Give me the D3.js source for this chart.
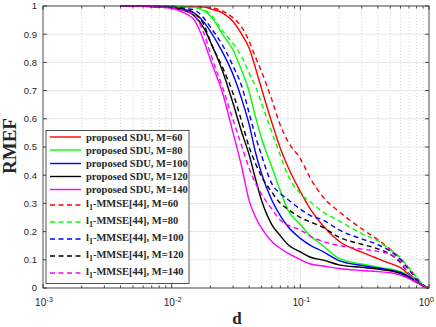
<!DOCTYPE html>
<html>
<head>
<meta charset="utf-8">
<script src="https://cdn.jsdelivr.net/npm/d3@7"></script>
<style>
  body { margin: 0; background: #fff; }
</style>
</head>
<body>
<svg id="chart" width="436" height="327"></svg>
<script>
// sample points on d (log axis)
var dVals = [0.004, 0.006, 0.008, 0.01, 0.012, 0.015, 0.018, 0.02, 0.025, 0.03, 0.035, 0.04, 0.045, 0.05,
             0.06, 0.07, 0.08, 0.1, 0.12, 0.15, 0.2, 0.3, 0.4, 0.5, 0.6, 0.7, 0.8, 0.9, 1];

// proposed SDU (solid)
var sdu60  = [1.0, 1.0, 0.999, 0.998, 0.997, 0.996, 0.996, 0.990, 0.975, 0.945, 0.900, 0.851, 0.777, 0.706,
              0.587, 0.495, 0.430, 0.342, 0.279, 0.221, 0.166, 0.127, 0.104, 0.087, 0.072, 0.048, 0.028, 0.009, 0];
var sdu80  = [1.0, 1.0, 0.999, 0.998, 0.997, 0.995, 0.982, 0.965, 0.898, 0.844, 0.771, 0.696, 0.604, 0.530,
              0.430, 0.343, 0.277, 0.225, 0.184, 0.150, 0.105, 0.085, 0.074, 0.067, 0.058, 0.045, 0.029, 0.010, 0];
var sdu100 = [1.0, 0.999, 0.998, 0.996, 0.990, 0.975, 0.940, 0.910, 0.834, 0.757, 0.670, 0.580, 0.478, 0.405,
              0.312, 0.256, 0.218, 0.176, 0.151, 0.129, 0.097, 0.080, 0.071, 0.064, 0.055, 0.040, 0.023, 0.008, 0];
var sdu120 = [1.0, 0.999, 0.997, 0.994, 0.986, 0.965, 0.918, 0.873, 0.766, 0.655, 0.553, 0.473, 0.384, 0.310,
              0.225, 0.185, 0.154, 0.128, 0.109, 0.099, 0.082, 0.073, 0.067, 0.061, 0.051, 0.037, 0.021, 0.008, 0];
var sdu140 = [1.0, 0.999, 0.996, 0.992, 0.979, 0.950, 0.870, 0.810, 0.688, 0.550, 0.430, 0.310, 0.250, 0.212,
              0.165, 0.140, 0.124, 0.101, 0.085, 0.078, 0.069, 0.062, 0.058, 0.054, 0.046, 0.033, 0.019, 0.008, 0];

// l1-MMSE[44] (dashed)
var mmse60  = [1.0, 1.0, 0.999, 0.999, 0.998, 0.997, 0.996, 0.994, 0.982, 0.958, 0.925, 0.875, 0.817, 0.767,
               0.668, 0.576, 0.520, 0.459, 0.388, 0.323, 0.271, 0.210, 0.171, 0.137, 0.104, 0.070, 0.037, 0.011, 0];
var mmse80  = [1.0, 1.0, 0.999, 0.998, 0.997, 0.994, 0.985, 0.970, 0.910, 0.867, 0.820, 0.762, 0.713, 0.655,
               0.553, 0.470, 0.400, 0.335, 0.305, 0.270, 0.238, 0.193, 0.167, 0.135, 0.108, 0.071, 0.039, 0.011, 0];
var mmse100 = [1.0, 0.999, 0.998, 0.997, 0.993, 0.986, 0.954, 0.925, 0.859, 0.787, 0.716, 0.620, 0.535, 0.470,
               0.370, 0.335, 0.314, 0.280, 0.257, 0.241, 0.206, 0.174, 0.154, 0.131, 0.101, 0.064, 0.030, 0.009, 0];
var mmse120 = [1.0, 0.999, 0.998, 0.995, 0.990, 0.975, 0.929, 0.874, 0.780, 0.690, 0.591, 0.500, 0.440, 0.395,
               0.340, 0.300, 0.280, 0.250, 0.234, 0.215, 0.180, 0.155, 0.139, 0.120, 0.090, 0.050, 0.023, 0.009, 0];
var mmse140 = [1.0, 0.999, 0.997, 0.994, 0.986, 0.968, 0.897, 0.832, 0.708, 0.596, 0.504, 0.425, 0.370, 0.332,
               0.280, 0.240, 0.223, 0.206, 0.183, 0.165, 0.151, 0.138, 0.130, 0.119, 0.094, 0.050, 0.023, 0.009, 0];

var mLabels = ["60", "80", "100", "120", "140"];
var colors = ["#ff0000", "#00ff00", "#0000ff", "#000000", "#ff00ff"];
var xTickVals = [0.001, 0.01, 0.1, 1];
var xTickExps = ["-3", "-2", "-1", "0"];

var series = [];
[sdu60, sdu80, sdu100, sdu120, sdu140].forEach(function(v, i) {
  series.push({ values: v, color: colors[i], dashed: false, m: mLabels[i] });
});
[mmse60, mmse80, mmse100, mmse120, mmse140].forEach(function(v, i) {
  series.push({ values: v, color: colors[i], dashed: true, m: mLabels[i] });
});

var svg = d3.select("#chart");
var axisColor = "#262626";
var sans = "'Liberation Sans', Arial, sans-serif";
var serif = "'Liberation Serif', 'Times New Roman', serif";

var x = d3.scaleLog().domain([1e-3, 1]).range([43, 429]);
var y = d3.scaleLinear().domain([0, 1]).range([288, 6]);

// grid
var grid = svg.append("g");
var minor = x.ticks().filter(function(d) {
  var l = Math.log10(d); return Math.abs(l - Math.round(l)) > 1e-6;
});
grid.selectAll(".minor").data(minor).enter().append("line")
    .attr("x1", function(d) { return x(d); }).attr("x2", function(d) { return x(d); })
    .attr("y1", 6).attr("y2", 288)
    .attr("stroke", "#cfcfcf").attr("stroke-width", 0.8).attr("stroke-dasharray", "1,2");
grid.selectAll(".majx").data([0.01, 0.1]).enter().append("line")
    .attr("x1", function(d) { return x(d); }).attr("x2", function(d) { return x(d); })
    .attr("y1", 6).attr("y2", 288)
    .attr("stroke", "#dedede").attr("stroke-width", 0.8);
grid.selectAll(".majy").data(y.ticks(10)).enter().append("line")
    .attr("x1", 43).attr("x2", 429)
    .attr("y1", function(d) { return y(d); }).attr("y2", function(d) { return y(d); })
    .attr("stroke", "#dedede").attr("stroke-width", 0.8);

// curves
svg.append("clipPath").attr("id", "clip").append("rect")
    .attr("x", 43).attr("y", 5).attr("width", 386).attr("height", 284);

var line = d3.line()
    .x(function(d) { return x(d[0]); })
    .y(function(d) { return y(d[1]); })
    .curve(d3.curveMonotoneX);

svg.append("g").attr("clip-path", "url(#clip)")
  .selectAll("path").data(series).enter().append("path")
    .attr("d", function(s) { return line(dVals.map(function(d, i) { return [d, s.values[i]]; })); })
    .attr("fill", "none")
    .attr("stroke", function(s) { return s.color; })
    .attr("stroke-width", 1.4)
    .attr("stroke-dasharray", function(s) { return s.dashed ? "5,3.5" : null; });

// axes box + inward ticks
var ax = svg.append("g").attr("stroke", axisColor).attr("stroke-width", 0.8);
ax.append("rect").attr("x", 43).attr("y", 6).attr("width", 386).attr("height", 282).attr("fill", "none");
y.ticks(10).forEach(function(t) {
  ax.append("line").attr("x1", 43).attr("x2", 47).attr("y1", y(t)).attr("y2", y(t));
  ax.append("line").attr("x1", 429).attr("x2", 425).attr("y1", y(t)).attr("y2", y(t));
});
x.ticks().forEach(function(t) {
  var len = minor.indexOf(t) >= 0 ? 2.5 : 4;
  ax.append("line").attr("x1", x(t)).attr("x2", x(t)).attr("y1", 288).attr("y2", 288 - len);
  ax.append("line").attr("x1", x(t)).attr("x2", x(t)).attr("y1", 6).attr("y2", 6 + len);
});

// tick labels
svg.append("g").selectAll("text").data(y.ticks(10)).enter().append("text")
    .attr("x", 37).attr("y", function(d) { return y(d) + 3.3; })
    .attr("text-anchor", "end").style("font-family", sans).style("font-size", "9.5px").attr("fill", axisColor)
    .text(function(d) { return +d.toFixed(1) + ""; });

var xl = svg.append("g").selectAll("text").data(xTickVals).enter().append("text")
    .attr("x", function(d, i) { return i === xTickVals.length - 1 ? 434 : x(d) + 1; })
    .attr("y", 306)
    .attr("text-anchor", function(d, i) { return i === xTickVals.length - 1 ? "end" : "middle"; })
    .style("font-family", sans).style("font-size", "10px").attr("fill", axisColor);
xl.append("tspan").text("10");
xl.append("tspan").attr("dy", -4.5).style("font-size", "7.5px").text(function(d, i) { return xTickExps[i]; });

// axis titles
svg.append("text").attr("x", 237).attr("y", 324)
    .attr("text-anchor", "middle").style("font-family", serif)
    .style("font-weight", "bold").style("font-size", "17px").attr("fill", axisColor).text("d");
svg.append("text").attr("transform", "translate(16,146) rotate(-90)")
    .attr("text-anchor", "middle").style("font-family", serif)
    .style("font-weight", "bold").style("font-size", "19px").attr("fill", axisColor).text("RMEF");

// legend
var rowY = [137, 150, 163.5, 176.5, 189.5, 205, 222, 239, 256, 273];
var lg = svg.append("g");
lg.append("rect").attr("x", 46).attr("y", 130.5).attr("width", 143).attr("height", 153)
    .attr("fill", "#fff").attr("stroke", axisColor).attr("stroke-width", 0.8);
series.forEach(function(s, i) {
  var yy = rowY[i];
  lg.append("line").attr("x1", 50).attr("x2", 81).attr("y1", yy).attr("y2", yy)
    .attr("stroke", s.color).attr("stroke-width", 1.4)
    .attr("stroke-dasharray", s.dashed ? "5,3.5" : null);
  var t = lg.append("text").attr("x", 86).attr("y", yy + 3.5)
    .style("font-family", serif)
    .style("font-weight", "bold").style("font-size", "10.5px").attr("fill", axisColor);
  if (!s.dashed) {
    t.text("proposed SDU, M=" + s.m);
  } else {
    t.attr("y", yy + 1.5);
    t.append("tspan").text("l");
    t.append("tspan").attr("dy", 3.5).style("font-size", "8px").text("1");
    t.append("tspan").attr("dy", -3.5).text("-MMSE[44], M=" + s.m);
  }
});
</script>
</body>
</html>
